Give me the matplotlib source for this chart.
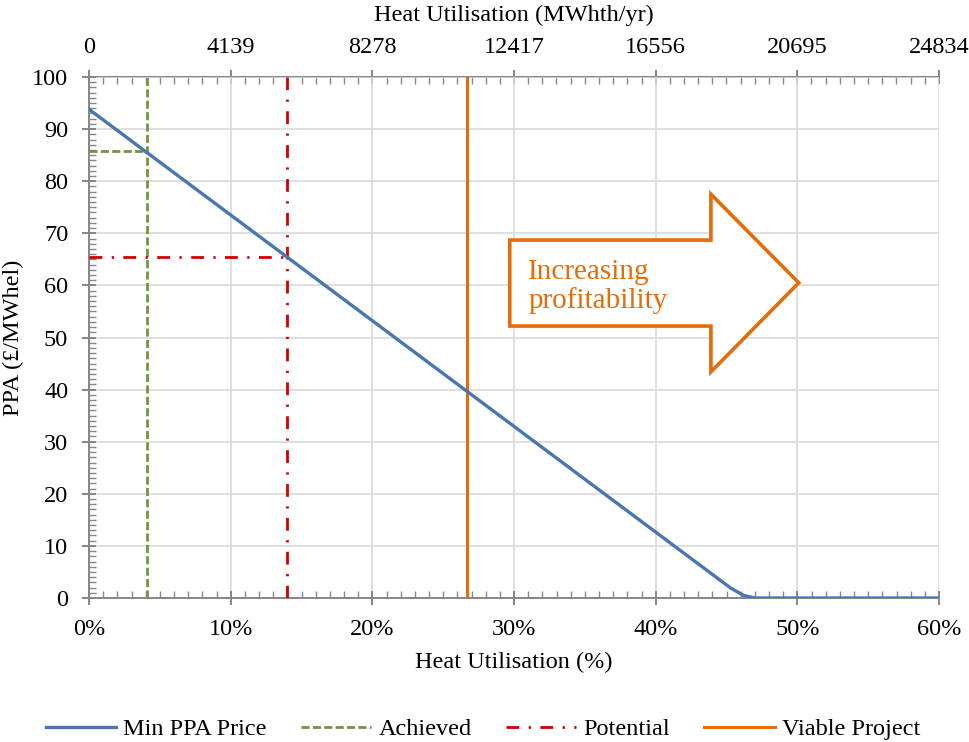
import matplotlib.pyplot as plt
import numpy as np
from matplotlib.patches import Polygon
from matplotlib.ticker import MultipleLocator

plt.rcParams['font.family'] = ['Liberation Serif', 'DejaVu Serif']

# data
util_pct = [0, 45.3, 46.2, 47.0, 60]          # heat utilisation (%)
min_ppa = [93.8, 1.9, 0.5, 0.0, 0.0]          # min PPA price (GBP/MWhel)

achieved_pct, achieved_ppa = 4.1, 85.8
potential_pct, potential_ppa = 14.0, 65.5
viable_pct = 26.7

heat_max = 24834                              # MWhth/yr at 60 %
heat_ticks = [0, 4139, 8278, 12417, 16556, 20695, 24834]

# arrow outline (x in %, y in PPA units)
arrow_x = [29.7, 43.9, 43.9, 50.1, 43.9, 43.9, 29.7]
arrow_y = [68.7, 68.7, 77.5, 60.5, 43.4, 52.2, 52.2]

blue = '#4a76b0'
green = '#77933c'
red = '#d00000'
orange = '#e46c0a'
axis_grey = '#868686'
grid_grey = '#d9d9d9'
fs = 17.5

green_ls = (0, (2.9, 1.2))
red_ls = (0, (4.6, 3.4, 0.8, 3.4))

fig = plt.figure(figsize=(9.69, 7.42), dpi=100)
ax = fig.add_axes([89 / 969, 1 - 598 / 742, 850 / 969, 521 / 742])

ax.plot(util_pct, min_ppa, color=blue, lw=2.4, label='Min PPA Price', zorder=5)
ax.plot([achieved_pct, achieved_pct], [0, 100], color=green, lw=2.0,
        linestyle=green_ls, label='Achieved', zorder=4)
ax.plot([0, achieved_pct], [achieved_ppa, achieved_ppa], color=green, lw=2.0,
        linestyle=green_ls, zorder=4)
ax.plot([potential_pct, potential_pct], [0, 100], color=red, lw=2.0,
        linestyle=red_ls, label='Potential', zorder=4)
ax.plot([0, potential_pct], [potential_ppa, potential_ppa], color=red, lw=2.0,
        linestyle=red_ls, zorder=4)
ax.plot([viable_pct, viable_pct], [0, 100], color=orange, lw=2.2,
        label='Viable Project', zorder=4)

# arrow shape with text
ax.add_patch(Polygon(np.column_stack([arrow_x, arrow_y]), closed=True,
                     facecolor='white', edgecolor=orange, lw=2.6, zorder=3))
ax.text(31.0, 59.8, 'Increasing\nprofitability', color=orange, fontsize=21,
        ha='left', va='center', linespacing=1.1, zorder=6)

ax.set_xlim(0, 60)
ax.set_ylim(0, 100)
ax.xaxis.set_major_locator(MultipleLocator(10))
ax.xaxis.set_minor_locator(MultipleLocator(1))
ax.yaxis.set_major_locator(MultipleLocator(10))
ax.yaxis.set_minor_locator(MultipleLocator(1))
ax.set_xticklabels([f'{int(v)}%' for v in ax.get_xticks()])
ax.grid(True, which='major', color=grid_grey, lw=1.2, zorder=0)
ax.set_axisbelow(True)

for s in ['right', 'top']:
    ax.spines[s].set_visible(False)
for s in ['left', 'bottom']:
    ax.spines[s].set_color(axis_grey)
    ax.spines[s].set_linewidth(1.4)

ax.tick_params(which='major', direction='inout', length=10, width=1.4,
               color=axis_grey, labelsize=fs, pad=10)
ax.tick_params(which='minor', direction='in', length=5, width=1.0,
               color=axis_grey)
ax.tick_params(axis='x', which='both', top=False)

# top axis in MWhth/yr
sec = ax.secondary_xaxis('top', functions=(lambda p: p * heat_max / 60,
                                           lambda h: h * 60 / heat_max))
sec.set_xticks(heat_ticks)
sec.xaxis.set_minor_locator(MultipleLocator(heat_ticks[1] / 10))
sec.spines['top'].set_color(axis_grey)
sec.spines['top'].set_linewidth(1.4)
sec.tick_params(which='major', direction='inout', length=10, width=1.4,
                color=axis_grey, labelsize=fs, pad=9)
sec.tick_params(which='minor', direction='in', length=5, width=1.0,
                color=axis_grey)

fig.text(514 / 969, 1 - 662 / 742, 'Heat Utilisation (%)', fontsize=fs,
         ha='center', va='center')
fig.text(514 / 969, 1 - 15 / 742, 'Heat Utilisation (MWhth/yr)', fontsize=fs,
         ha='center', va='center')
fig.text(13 / 969, 1 - 338 / 742, 'PPA (£/MWhel)', fontsize=fs,
         ha='center', va='center', rotation=90)

fig.legend(loc='center', bbox_to_anchor=(483 / 969, 1 - 729 / 742), ncol=4,
           frameon=False, fontsize=fs, handlelength=2.9, handletextpad=0.3,
           columnspacing=1.4, borderaxespad=0)

fig.savefig('out.png', dpi=100)
